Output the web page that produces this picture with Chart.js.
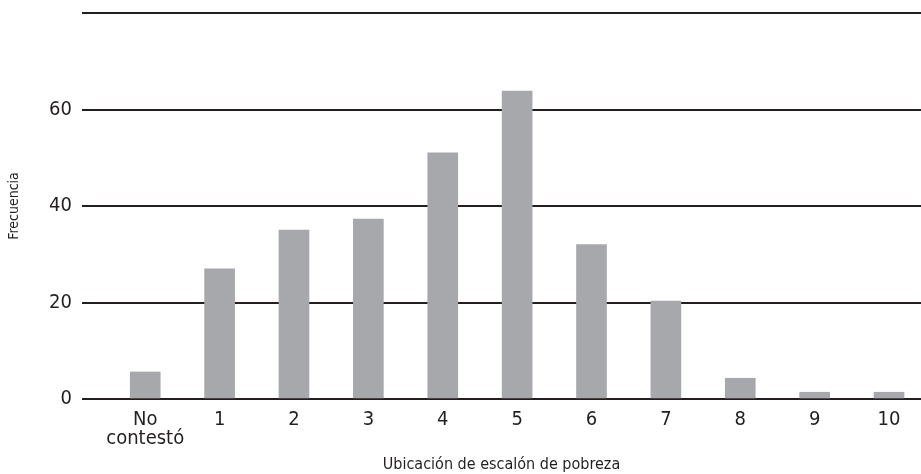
<!DOCTYPE html>
<html>
<head>
<meta charset="utf-8">
<script src="https://cdn.jsdelivr.net/npm/chart.js@4.4.0/dist/chart.umd.min.js"></script>
<style>
  html, body { margin: 0; padding: 0; background: #fff; }
  #wrap { width: 921px; height: 474px; }
</style>
</head>
<body>
<div id="wrap"><canvas id="grafico"></canvas></div>
<script>
// Datos
var categorias = [["No", "contestó"], "1", "2", "3", "4", "5", "6", "7", "8", "9", "10"];
var frecuencias = [5.6, 27, 35, 37.3, 51, 63.8, 32, 20.3, 4.3, 1.4, 1.4];
var ticksY = [0, 20, 40, 60, 80];

var tinta = '#231f20';
var fuente = '"Liberation Sans Narrow", "DejaVu Sans Condensed", sans-serif';

var ctx = document.getElementById('grafico').getContext('2d');
var chart = new Chart(ctx, {
    type: 'bar',
    data: {
        datasets: [{
            data: frecuencias.map(function(v, i) { return { x: i, y: v }; }),
            backgroundColor: '#a7a8ab',
            borderWidth: 0,
            barThickness: 30
        }]
    },
    options: {
        responsive: true,
        maintainAspectRatio: false,
        animation: false,
        layout: { padding: { top: 13, right: 0, left: 0, bottom: 0 } },
        plugins: { legend: { display: false }, tooltip: { enabled: false } },
        scales: {
            x: {
                type: 'linear',
                offset: false,
                min: -0.85,
                max: 10.43,
                afterBuildTicks: function(scale) {
                    scale.ticks = categorias.map(function(c, i) { return { value: i }; });
                },
                afterFit: function(scale) { scale.height = 75; },
                grid: { display: false },
                border: { display: false },
                ticks: {
                    autoSkip: false,
                    maxRotation: 0,
                    padding: 3,
                    color: tinta,
                    font: { family: fuente, size: 20, lineHeight: 0.95 },
                    callback: function(v) { return categorias[v]; }
                },
                title: {
                    display: true,
                    text: 'Ubicación de escalón de pobreza',
                    color: tinta,
                    padding: 0,
                    font: { family: fuente, size: 16 }
                }
            },
            y: {
                min: 0,
                max: 80,
                afterBuildTicks: function(scale) {
                    scale.ticks = ticksY.map(function(v) { return { value: v }; });
                },
                // ancho fijo y sin relleno extra arriba
                afterFit: function(scale) {
                    scale.width = 82;
                    scale.paddingTop = 0;
                    scale.paddingBottom = 0;
                },
                border: { display: false },
                grid: { color: tinta, lineWidth: 2, drawTicks: false },
                ticks: {
                    padding: 10,
                    color: tinta,
                    font: { family: fuente, size: 20 },
                    callback: function(v) { return v === 80 ? '' : v; }
                },
                title: {
                    display: true,
                    text: 'Frecuencia',
                    color: tinta,
                    padding: 6,
                    font: { family: fuente, size: 14 }
                }
            }
        }
    }
});
</script>
</body>
</html>
